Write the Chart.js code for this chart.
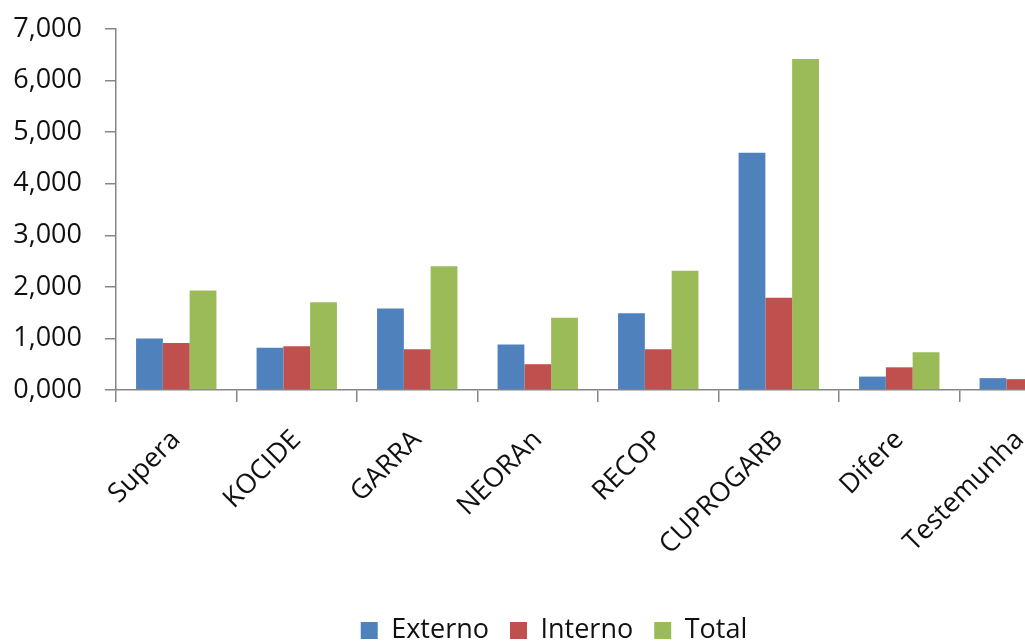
<!DOCTYPE html>
<html>
<head>
<meta charset="utf-8">
<script src="https://cdn.jsdelivr.net/npm/chart.js@4/dist/chart.umd.min.js"></script>
<style>
  html, body { margin: 0; padding: 0; background: #fff; overflow: hidden; }
  canvas { display: block; }
</style>
</head>
<body>
<canvas id="chart" width="1108" height="654"></canvas>
<script>
// data
const categories = ['Supera', 'KOCIDE', 'GARRA', 'NEORAn', 'RECOP', 'CUPROGARB', 'Difere', 'Testemunha'];
const externo = [1.00, 0.82, 1.58, 0.88, 1.49, 4.60, 0.26, 0.23];
const interno = [0.91, 0.85, 0.79, 0.50, 0.79, 1.79, 0.44, 0.21];
const total   = [1.93, 1.70, 2.40, 1.40, 2.31, 6.42, 0.73, 0.44];
const yTickLabels = ['0,000', '1,000', '2,000', '3,000', '4,000', '5,000', '6,000', '7,000'];

const FONT = "'Open Sans', 'Liberation Sans', sans-serif";
const axisGray = '#868686';

// legend is centred on the whole picture, not on the area left of the right padding
const shiftLegend = {
    id: 'shiftLegend',
    afterLayout(chart) {
        chart.legend.left += 14;
        chart.legend.right += 14;
    }
};

const ctx = document.getElementById('chart').getContext('2d');
new Chart(ctx, {
    type: 'bar',
    data: {
        labels: categories,
        datasets: [
            { label: 'Externo', data: externo, backgroundColor: '#4F81BD' },
            { label: 'Interno', data: interno, backgroundColor: '#C0504D' },
            { label: 'Total', data: total, backgroundColor: '#9BBB59' }
        ]
    },
    plugins: [shiftLegend],
    options: {
        responsive: false,
        animation: false,
        categoryPercentage: 0.667,
        barPercentage: 1.0,
        layout: { padding: { top: 29, right: 28, bottom: 0, left: 0 } },
        plugins: {
            tooltip: { enabled: false },
            legend: {
                position: 'bottom',
                labels: {
                    boxWidth: 17,
                    boxHeight: 17,
                    padding: 21,
                    color: '#111',
                    font: { family: FONT, size: 27 }
                }
            }
        },
        scales: {
            x: {
                offset: true,
                afterFit: (scale) => { scale.height = 206; },
                border: { color: axisGray, width: 1.5 },
                grid: { offset: true, drawOnChartArea: false, tickLength: 12, color: axisGray, lineWidth: 1.5 },
                ticks: {
                    autoSkip: false,
                    minRotation: 45,
                    maxRotation: 45,
                    padding: 22,
                    color: '#111',
                    font: { family: FONT, size: 27 }
                }
            },
            y: {
                min: 0,
                max: 7,
                afterFit: (scale) => {
                    scale.width = 116;
                    // tick padding would otherwise push the plot top down
                    scale.paddingTop = 0;
                    scale.paddingBottom = 0;
                },
                border: { color: axisGray, width: 1.5 },
                grid: { drawOnChartArea: false, tickLength: 11, color: axisGray, lineWidth: 1.5 },
                ticks: {
                    stepSize: 1,
                    padding: 23,
                    color: '#111',
                    font: { family: FONT, size: 27 },
                    callback: (v) => yTickLabels[Math.round(v)]
                }
            }
        }
    }
});
</script>
</body>
</html>
